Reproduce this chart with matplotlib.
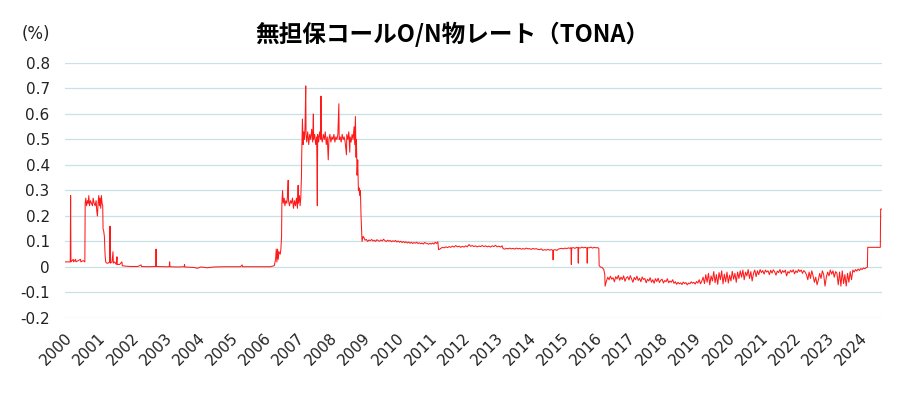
import numpy as np
import matplotlib.pyplot as plt
import matplotlib as mpl

mpl.rcParams['font.family'] = ['DejaVu Sans', 'Noto Sans CJK JP']

title = '無担保コールO/N物レート（TONA）'
unit_label = '(%)'

# ---- データ (年の小数表記, %) ----
t_2000_2006 = [2000.00, 2000.16, 2000.17, 2000.18, 2000.25, 2000.26, 2000.32, 2000.33, 2000.40, 2000.47,
               2000.48, 2000.55, 2000.60, 2000.61, 2000.63, 2000.65, 2000.68, 2000.70, 2000.72, 2000.74,
               2000.77, 2000.80, 2000.83, 2000.85, 2000.88, 2000.91, 2000.94, 2000.96, 2000.98, 2001.00,
               2001.02, 2001.04, 2001.06, 2001.08, 2001.10, 2001.12, 2001.14, 2001.15, 2001.17, 2001.19,
               2001.21, 2001.23, 2001.26, 2001.30, 2001.35, 2001.36, 2001.37, 2001.42, 2001.45, 2001.46,
               2001.50, 2001.55, 2001.57, 2001.58, 2001.65, 2001.72, 2001.73, 2001.85, 2002.00, 2002.20,
               2002.30, 2002.31, 2002.50, 2002.74, 2002.75, 2002.76, 2003.00, 2003.15, 2003.16, 2003.17,
               2003.40, 2003.60, 2003.61, 2003.62, 2003.90, 2004.00, 2004.10, 2004.30, 2004.50, 2004.80,
               2005.00, 2005.30, 2005.35, 2005.36, 2005.60, 2005.90, 2006.20, 2006.32, 2006.36, 2006.38,
               2006.40, 2006.42, 2006.44, 2006.46, 2006.50, 2006.52, 2006.54]
v_2000_2006 = [0.02, 0.02, 0.28, 0.02, 0.03, 0.02, 0.03, 0.02, 0.025, 0.03,
               0.02, 0.025, 0.02, 0.25, 0.27, 0.24, 0.26, 0.25, 0.28, 0.24,
               0.26, 0.25, 0.24, 0.27, 0.25, 0.24, 0.26, 0.22, 0.20, 0.25,
               0.28, 0.24, 0.27, 0.23, 0.28, 0.25, 0.24, 0.15, 0.14, 0.12,
               0.05, 0.02, 0.015, 0.015, 0.02, 0.16, 0.015, 0.02, 0.06, 0.015,
               0.02, 0.01, 0.04, 0.01, 0.01, 0.02, 0.005, 0.003, 0.002, 0.002,
               0.008, 0.002, 0.001, 0.002, 0.07, 0.002, 0.001, 0.001, 0.02, 0.001,
               0.0, 0.001, 0.01, 0.0, -0.002, -0.005, 0.0, -0.003, 0.0, 0.001,
               0.001, 0.001, 0.008, 0.001, 0.001, 0.001, 0.001, 0.005, 0.03, 0.07,
               0.02, 0.07, 0.03, 0.06, 0.05, 0.07, 0.12]

t_2006_2009 = [2006.55, 2006.57, 2006.59, 2006.62, 2006.64, 2006.67, 2006.70, 2006.72, 2006.74, 2006.75,
               2006.78, 2006.81, 2006.84, 2006.87, 2006.90, 2006.93, 2006.96, 2006.99, 2007.02, 2007.04,
               2007.05, 2007.08, 2007.10, 2007.12, 2007.14, 2007.15, 2007.17, 2007.19, 2007.21, 2007.23,
               2007.25, 2007.27, 2007.28, 2007.30, 2007.33, 2007.36, 2007.39, 2007.42, 2007.45, 2007.48,
               2007.50, 2007.51, 2007.54, 2007.57, 2007.60, 2007.62, 2007.63, 2007.66, 2007.69, 2007.72,
               2007.73, 2007.74, 2007.77, 2007.80, 2007.83, 2007.86, 2007.89, 2007.92, 2007.95, 2007.97,
               2008.00, 2008.03, 2008.06, 2008.09, 2008.12, 2008.15, 2008.18, 2008.21, 2008.24, 2008.27,
               2008.28, 2008.31, 2008.34, 2008.37, 2008.40, 2008.43, 2008.46, 2008.50, 2008.51, 2008.54,
               2008.57, 2008.60, 2008.61, 2008.64, 2008.67, 2008.70, 2008.73, 2008.75, 2008.77, 2008.79,
               2008.80, 2008.82, 2008.84, 2008.86, 2008.88, 2008.90, 2008.92, 2008.94, 2008.97]
v_2006_2009 = [0.25, 0.30, 0.25, 0.27, 0.24, 0.26, 0.25, 0.28, 0.34, 0.26,
               0.24, 0.26, 0.25, 0.27, 0.23, 0.26, 0.24, 0.27, 0.23, 0.32,
               0.25, 0.28, 0.24, 0.27, 0.35, 0.45, 0.58, 0.48, 0.53, 0.50,
               0.55, 0.71, 0.52, 0.49, 0.53, 0.48, 0.52, 0.50, 0.54, 0.49,
               0.60, 0.50, 0.52, 0.48, 0.51, 0.24, 0.52, 0.49, 0.53, 0.50,
               0.67, 0.51, 0.49, 0.52, 0.50, 0.53, 0.48, 0.51, 0.42, 0.50,
               0.52, 0.49, 0.51, 0.50, 0.52, 0.49, 0.51, 0.50, 0.52, 0.64,
               0.50, 0.51, 0.49, 0.52, 0.50, 0.51, 0.49, 0.44, 0.52, 0.50,
               0.53, 0.45, 0.51, 0.49, 0.52, 0.50, 0.55, 0.48, 0.59, 0.43,
               0.50, 0.36, 0.42, 0.30, 0.31, 0.28, 0.30, 0.20, 0.10]

t_2009_2016 = [2009.00, 2009.03, 2009.06, 2009.10, 2009.14, 2009.18, 2009.22, 2009.26, 2009.30, 2009.34,
               2009.38, 2009.42, 2009.46, 2009.50, 2009.54, 2009.58, 2009.62, 2009.66, 2009.70, 2009.74,
               2009.78, 2009.82, 2009.86, 2009.90, 2009.94, 2009.98, 2010.02, 2010.06, 2010.10, 2010.14,
               2010.18, 2010.22, 2010.26, 2010.30, 2010.34, 2010.38, 2010.42, 2010.46, 2010.50, 2010.54,
               2010.58, 2010.62, 2010.66, 2010.70, 2010.74, 2010.78, 2010.82, 2010.86, 2010.90, 2010.94,
               2010.98, 2011.02, 2011.06, 2011.10, 2011.14, 2011.18, 2011.22, 2011.26, 2011.28, 2011.32,
               2011.36, 2011.40, 2011.45, 2011.50, 2011.55, 2011.60, 2011.65, 2011.70, 2011.75, 2011.80,
               2011.85, 2011.90, 2011.95, 2012.00, 2012.05, 2012.10, 2012.15, 2012.20, 2012.25, 2012.30,
               2012.35, 2012.40, 2012.45, 2012.50, 2012.55, 2012.60, 2012.65, 2012.70, 2012.75, 2012.80,
               2012.85, 2012.90, 2012.95, 2013.00, 2013.05, 2013.10, 2013.15, 2013.20, 2013.23, 2013.28,
               2013.33, 2013.38, 2013.43, 2013.48, 2013.53, 2013.58, 2013.63, 2013.68, 2013.73, 2013.78,
               2013.83, 2013.88, 2013.93, 2013.98, 2014.03, 2014.08, 2014.13, 2014.18, 2014.23, 2014.28,
               2014.33, 2014.38, 2014.43, 2014.48, 2014.53, 2014.58, 2014.63, 2014.68, 2014.73, 2014.74,
               2014.75, 2014.80, 2014.85, 2014.90, 2014.95, 2015.00, 2015.05, 2015.10, 2015.15, 2015.20,
               2015.25, 2015.28, 2015.29, 2015.30, 2015.35, 2015.40, 2015.45, 2015.49, 2015.50, 2015.51,
               2015.56, 2015.61, 2015.66, 2015.71, 2015.76, 2015.77, 2015.78, 2015.83, 2015.88, 2015.93,
               2015.98, 2016.03, 2016.08, 2016.12, 2016.13, 2016.17, 2016.22, 2016.27, 2016.30, 2016.31]
v_2009_2016 = [0.12, 0.115, 0.105, 0.108, 0.100, 0.106, 0.103, 0.108, 0.102, 0.105,
               0.100, 0.107, 0.103, 0.101, 0.106, 0.102, 0.109, 0.103, 0.100, 0.105,
               0.101, 0.104, 0.099, 0.103, 0.100, 0.104, 0.098, 0.102, 0.097, 0.101,
               0.096, 0.100, 0.095, 0.099, 0.094, 0.098, 0.093, 0.097, 0.092, 0.096,
               0.093, 0.097, 0.092, 0.095, 0.091, 0.094, 0.090, 0.096, 0.093, 0.092,
               0.089, 0.093, 0.090, 0.094, 0.090, 0.097, 0.092, 0.099, 0.068, 0.070,
               0.074, 0.077, 0.075, 0.079, 0.076, 0.080, 0.077, 0.082, 0.078, 0.084,
               0.079, 0.082, 0.077, 0.081, 0.078, 0.083, 0.079, 0.088, 0.081, 0.084,
               0.080, 0.083, 0.079, 0.082, 0.080, 0.084, 0.080, 0.083, 0.079, 0.082,
               0.078, 0.083, 0.080, 0.085, 0.079, 0.082, 0.078, 0.083, 0.072, 0.070,
               0.073, 0.071, 0.074, 0.071, 0.073, 0.070, 0.074, 0.071, 0.073, 0.070,
               0.072, 0.070, 0.074, 0.071, 0.072, 0.069, 0.073, 0.070, 0.072, 0.069,
               0.068, 0.071, 0.065, 0.068, 0.066, 0.069, 0.066, 0.068, 0.066, 0.028,
               0.066, 0.068, 0.065, 0.070, 0.072, 0.073, 0.071, 0.074, 0.072, 0.075,
               0.073, 0.076, 0.010, 0.074, 0.076, 0.073, 0.077, 0.075, 0.015, 0.076,
               0.074, 0.078, 0.075, 0.077, 0.074, 0.015, 0.076, 0.075, 0.078, 0.074,
               0.077, 0.075, 0.076, 0.073, 0.005, 0.000, -0.002, -0.010, -0.030, -0.075]

t_2016_2024 = [2016.35, 2016.39, 2016.43, 2016.47, 2016.51, 2016.55, 2016.59, 2016.63, 2016.67, 2016.71,
               2016.75, 2016.79, 2016.83, 2016.87, 2016.91, 2016.95, 2016.99, 2017.03, 2017.07, 2017.11,
               2017.15, 2017.19, 2017.23, 2017.27, 2017.31, 2017.35, 2017.39, 2017.43, 2017.47, 2017.51,
               2017.55, 2017.59, 2017.63, 2017.67, 2017.71, 2017.75, 2017.79, 2017.83, 2017.87, 2017.91,
               2017.95, 2017.99, 2018.03, 2018.07, 2018.11, 2018.15, 2018.19, 2018.23, 2018.27, 2018.31,
               2018.35, 2018.39, 2018.43, 2018.47, 2018.51, 2018.55, 2018.59, 2018.63, 2018.67, 2018.71,
               2018.75, 2018.79, 2018.83, 2018.87, 2018.91, 2018.95, 2018.99, 2019.03, 2019.07, 2019.11,
               2019.15, 2019.19, 2019.23, 2019.27, 2019.31, 2019.35, 2019.39, 2019.43, 2019.47, 2019.51,
               2019.55, 2019.59, 2019.63, 2019.67, 2019.71, 2019.75, 2019.79, 2019.83, 2019.87, 2019.91,
               2019.95, 2019.99, 2020.03, 2020.07, 2020.11, 2020.15, 2020.19, 2020.23, 2020.27, 2020.31,
               2020.35, 2020.39, 2020.43, 2020.47, 2020.51, 2020.55, 2020.59, 2020.63, 2020.67, 2020.71,
               2020.75, 2020.79, 2020.83, 2020.87, 2020.91, 2020.95, 2020.99, 2021.03, 2021.07, 2021.11,
               2021.15, 2021.19, 2021.23, 2021.27, 2021.31, 2021.35, 2021.39, 2021.43, 2021.47, 2021.51,
               2021.55, 2021.59, 2021.63, 2021.67, 2021.71, 2021.75, 2021.79, 2021.83, 2021.87, 2021.91,
               2021.95, 2021.99, 2022.03, 2022.07, 2022.11, 2022.15, 2022.19, 2022.23, 2022.27, 2022.31,
               2022.35, 2022.39, 2022.43, 2022.47, 2022.51, 2022.55, 2022.59, 2022.63, 2022.67, 2022.71,
               2022.75, 2022.79, 2022.83, 2022.87, 2022.91, 2022.95, 2022.99, 2023.03, 2023.07, 2023.11,
               2023.15, 2023.19, 2023.23, 2023.27, 2023.31, 2023.35, 2023.39, 2023.43, 2023.47, 2023.51,
               2023.55, 2023.59, 2023.63, 2023.67, 2023.71, 2023.75, 2023.79, 2023.83, 2023.87, 2023.91,
               2023.95, 2023.99, 2024.03, 2024.07, 2024.11, 2024.15, 2024.19, 2024.23, 2024.24, 2024.62,
               2024.63, 2024.67]
v_2016_2024 = [-0.055, -0.040, -0.050, -0.036, -0.048, -0.042, -0.058, -0.038, -0.047, -0.033,
               -0.052, -0.040, -0.049, -0.035, -0.056, -0.043, -0.038, -0.051, -0.034, -0.047,
               -0.060, -0.041, -0.050, -0.036, -0.053, -0.044, -0.058, -0.039, -0.049, -0.045,
               -0.062, -0.048, -0.055, -0.042, -0.060, -0.050, -0.064, -0.046, -0.057, -0.044,
               -0.061, -0.052, -0.048, -0.063, -0.053, -0.058, -0.046, -0.062, -0.055, -0.060,
               -0.050, -0.064, -0.058, -0.068, -0.060, -0.066, -0.062, -0.069, -0.059, -0.065,
               -0.061, -0.070, -0.063, -0.066, -0.058, -0.064, -0.060, -0.067, -0.057, -0.063,
               -0.050, -0.066, -0.055, -0.040, -0.065, -0.030, -0.060, -0.025, -0.070, -0.035,
               -0.055, -0.018, -0.062, -0.030, -0.068, -0.022, -0.050, -0.015, -0.066, -0.028,
               -0.058, -0.020, -0.063, -0.032, -0.055, -0.017, -0.048, -0.025, -0.060, -0.020,
               -0.045, -0.015, -0.040, -0.012, -0.050, -0.020, -0.035, -0.010, -0.045, -0.018,
               -0.055, -0.025, -0.012, -0.038, -0.015, -0.030, -0.010, -0.022, -0.014, -0.028,
               -0.012, -0.020, -0.015, -0.030, -0.013, -0.024, -0.011, -0.019, -0.032, -0.016,
               -0.022, -0.010, -0.026, -0.014, -0.021, -0.012, -0.035, -0.018, -0.024, -0.013,
               -0.020, -0.011, -0.027, -0.015, -0.022, -0.010, -0.018, -0.012, -0.025, -0.014,
               -0.020, -0.030, -0.050, -0.020, -0.045, -0.015, -0.035, -0.060, -0.040, -0.070,
               -0.050, -0.025, -0.045, -0.015, -0.030, -0.075, -0.040, -0.020, -0.035, -0.012,
               -0.028, -0.015, -0.040, -0.018, -0.025, -0.070, -0.020, -0.075, -0.015, -0.065,
               -0.030, -0.075, -0.025, -0.060, -0.018, -0.050, -0.012, -0.020, -0.010, -0.016,
               -0.008, -0.014, -0.006, -0.010, -0.004, -0.007, -0.003, -0.001, 0.077, 0.077,
               0.227, 0.227]

year_ticks = list(range(2000, 2025))
y_ticks = [-0.2, -0.1, 0, 0.1, 0.2, 0.3, 0.4, 0.5, 0.6, 0.7, 0.8]
y_tick_labels = ['-0.2', '-0.1', '0', '0.1', '0.2', '0.3', '0.4', '0.5', '0.6', '0.7', '0.8']

t = np.concatenate([t_2000_2006, t_2006_2009, t_2009_2016, t_2016_2024])
v = np.concatenate([v_2000_2006, v_2006_2009, v_2009_2016, v_2016_2024])

fig = plt.figure(figsize=(9.1, 3.96), dpi=100)
ax = fig.add_axes([0.0714, 0.197, 0.8978, 0.644])

ax.plot(t, v, color='#ff1a1a', lw=0.75)

ax.set_xlim(2000, 2024.67)
ax.set_ylim(-0.2, 0.8)
ax.set_yticks(y_ticks)
ax.set_yticklabels(y_tick_labels)
ax.set_xticks(year_ticks)
ax.set_xticklabels([str(y) for y in year_ticks], rotation=45, ha='right',
                   rotation_mode='anchor')
ax.tick_params(axis='both', length=0, labelsize=11, colors='#222222')
ax.tick_params(axis='y', pad=11)
ax.tick_params(axis='x', pad=9)
ax.grid(axis='y', color='#c9e1e5', lw=0.9)
ax.set_axisbelow(True)
for s in ax.spines.values():
    s.set_visible(False)

fig.text(0.497, 0.913, title, ha='center', va='center', fontsize=17,
         fontweight='bold', family=['Noto Sans CJK JP', 'DejaVu Sans'])
fig.text(0.024, 0.913, unit_label, ha='left', va='center', fontsize=12, color='#222222')

plt.savefig('out.png', dpi=100)
